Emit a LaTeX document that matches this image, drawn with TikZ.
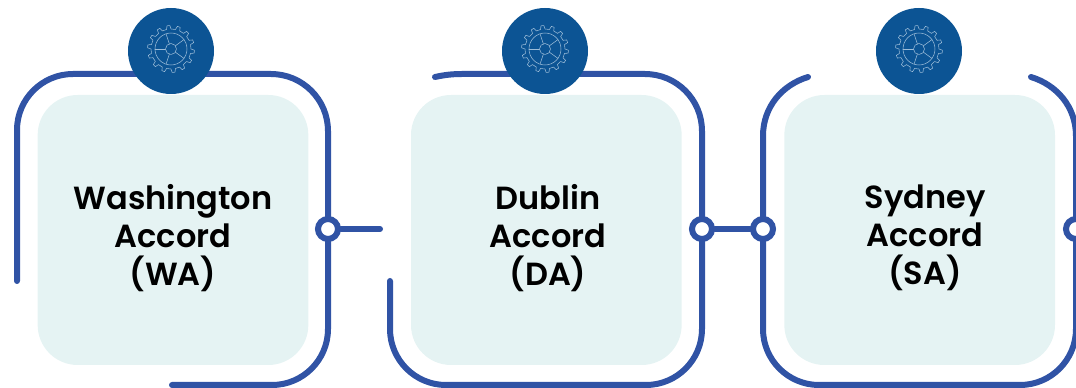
\documentclass[tikz,border=0pt]{standalone}
\usepackage{fontspec}
\setmainfont{Poppins}[BoldFont={Poppins SemiBold}]
\usepackage{xcolor}
\definecolor{framecol}{HTML}{3053A5}
\definecolor{panelcol}{HTML}{E5F3F3}
\definecolor{disccol}{HTML}{0C5494}
\definecolor{gearcol}{HTML}{9DBDD9}

\newcommand{\geardraw}[1]{%
  \begin{scope}[shift={(#1)}]
    \draw [gear line] (0:20) \foreach \t in {0,...,13} {
      -- (\t*25.714+3:23.5) -- (\t*25.714+10:23.5) -- (\t*25.714+13:20) -- (\t*25.714+25.714:20)};
    \draw [gear line] (0,0) circle (16) (0,0) circle (5.5);
    \foreach \t in {90,162,234,306,378}
      \draw [gear line] (\t-54:5.5) -- (\t-54:16);
  \end{scope}}

\begin{document}
\begin{tikzpicture}[x=0.75pt,y=-0.75pt,node distance=280pt,line cap=round]

  \tikzstyle{panel}=[rectangle,rounded corners=30pt,fill=panelcol,
  		     minimum width=203pt,minimum height=202.5pt]
  \tikzstyle{title}=[align=center,text=black,
  		     font=\bfseries\fontsize{24}{28.5}\selectfont]
  \tikzstyle{disc}=[circle,fill=disccol,minimum size=64.5pt,inner sep=0pt]
  \tikzstyle{ring}=[circle,draw=framecol,line width=4.5pt,fill=white,
  		    minimum size=15pt,inner sep=0pt]
  \tikzstyle{frame}=[draw=framecol,line width=4.5pt]
  \tikzstyle{gear line}=[draw=gearcol,line width=0.4pt,line join=round]

  \useasboundingbox (0,0) rectangle (1076,388);

  % Panels
  \node [panel] (wa) at (173,230) {};
  \node [panel] (da) [right of=wa] {};
  \node [panel] (sa) [right of=da] {};

  % Titles
  \node [title] (wat) at (173,238) {Washington\\Accord\\(WA)};
  \node [title] (dat) at (548,238) {Dublin\\Accord\\(DA)};
  \node [title] (sat) at (925,238) {Sydney\\Accord\\(SA)};

  % Frames
  \draw [frame] (17,281) -- (17,130) arc (180:270:56) -- (271,74)
    arc (-90:0:57) -- (328,329) arc (0:90:56) -- (172,385);
  \draw [frame] (435,77) .. controls (444,75) and (452,74) .. (462,74) -- (645,74)
    arc (-90:0:57) -- (702,329) arc (0:90:56) -- (446,385)
    arc (90:180:56) -- (390,281);
  \draw [frame] (808,77) .. controls (782,85) and (763,107) .. (763,136) -- (763,329)
    arc (180:90:56) -- (1020,385) arc (90:0:56) -- (1076,136)
    .. controls (1076,107) and (1057,85) .. (1031,77);

  % Links
  \node [ring] (r1) at (328,229) {};
  \node [ring] (r2) at (702,229) {};
  \node [ring] (r3) at (763,229) {};
  \node [ring] (r4) at (1076,229) {};
  \coordinate (stub) at (380,229);
  \draw [frame] (r1) -- (stub);
  \draw [frame] (r2) -- (r3);

  % Discs with gears
  \node [disc] (d1) at (171,51) {};
  \node [disc] (d2) [right of=d1,node distance=280.5pt] {};
  \node [disc] (d3) [right of=d2,node distance=280.5pt] {};
  \geardraw{171,49}
  \geardraw{545,49}
  \geardraw{919,49}
\end{tikzpicture}
\end{document}
